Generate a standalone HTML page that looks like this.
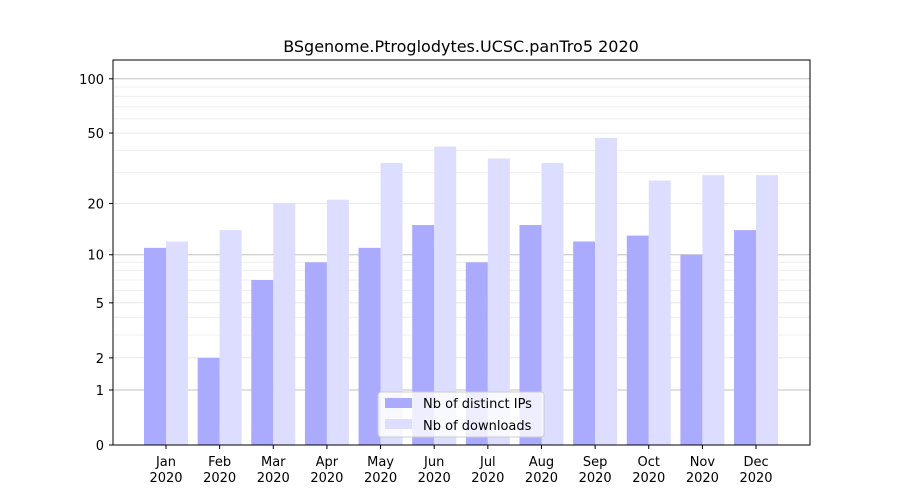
<!DOCTYPE html>
<html><head><meta charset="utf-8"><style>body{margin:0;background:#fff}svg{display:block;font-family:"DejaVu Sans","Liberation Sans",sans-serif}</style></head>
<body><svg id="s" width="900" height="500" xmlns="http://www.w3.org/2000/svg"></svg>
<script>
const s=document.getElementById('s');
const Y=v=>445-182.7*Math.log10(1+v);
let h='';
h+='<text x="461" y="52" font-size="16" text-anchor="middle">BSgenome.Ptroglodytes.UCSC.panTro5 2020</text>';
const minor=[3,4,6,7,8,9,30,40,60,70,80,90];
minor.forEach(v=>{h+=`<line x1="113" x2="810" y1="${Y(v)}" y2="${Y(v)}" stroke="#ececec" stroke-width="0.8"/>`});
[2,5,20,50].forEach(v=>{h+=`<line x1="113" x2="810" y1="${Y(v)}" y2="${Y(v)}" stroke="#e4e4e4" stroke-width="0.8"/>`});
[1,10,100].forEach(v=>{h+=`<line x1="113" x2="810" y1="${Y(v)}" y2="${Y(v)}" stroke="#c0c0c0" stroke-width="1"/>`});
const ips=[11,2,7,9,11,15,9,15,12,13,10,14],dl=[12,14,20,21,34,42,36,34,47,27,29,29];
const m=['Jan','Feb','Mar','Apr','May','Jun','Jul','Aug','Sep','Oct','Nov','Dec'];
for(let i=0;i<12;i++){const c=166+i*53.64;
h+=`<rect x="${c-22}" y="${Y(ips[i])}" width="22" height="${445-Y(ips[i])}" fill="#aaaaff"/>`;
h+=`<rect x="${c}" y="${Y(dl[i])}" width="22" height="${445-Y(dl[i])}" fill="#ddddff"/>`;
h+=`<line x1="${c}" x2="${c}" y1="445" y2="449" stroke="#000"/>`;
h+=`<text x="${c}" y="466" font-size="13" text-anchor="middle">${m[i]}</text><text x="${c}" y="482" font-size="13" text-anchor="middle">2020</text>`;}
[0,1,2,5,10,20,50,100].forEach(v=>{const y=Y(v);h+=`<line x1="109" x2="113" y1="${y}" y2="${y}" stroke="#000"/><text x="104" y="${y+5}" font-size="13" text-anchor="end">${v}</text>`});
h+='<rect x="113" y="60" width="697" height="385" fill="none" stroke="#000" stroke-width="1"/>';
h+='<rect x="378" y="392" width="166" height="45" rx="3" fill="#fff" fill-opacity="0.8" stroke="#ccc"/>';
h+='<rect x="385" y="398" width="27" height="10" fill="#aaaaff"/><text x="423" y="408" font-size="13">Nb of distinct IPs</text>';
h+='<rect x="385" y="419" width="27" height="10" fill="#ddddff"/><text x="423" y="430" font-size="13">Nb of downloads</text>';
s.innerHTML=h;
</script></body></html>
